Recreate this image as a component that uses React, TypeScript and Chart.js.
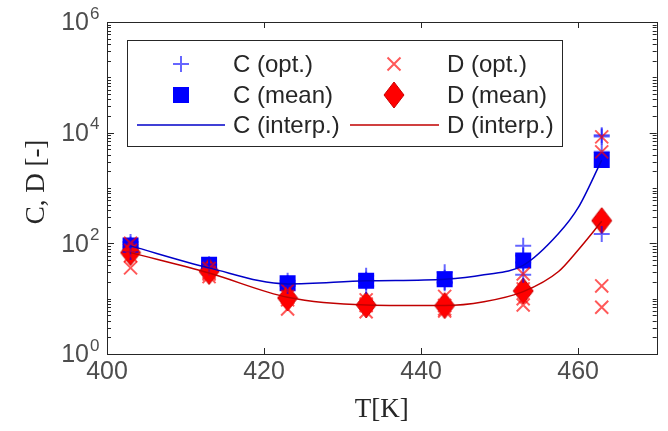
import React, { useEffect, useRef } from "react";
import { Chart, registerables } from "chart.js";

Chart.register(...registerables);

// ---- data ----
const temps = [403, 413, 423, 433, 443, 453, 463];
const cOpt = [
  [106, 95, 85, 70],
  [42, 40, 38, 36],
  [21, 19, 18, 17],
  [26, 22, 20, 17],
  [30, 24, 20, 19],
  [90, 60, 45, 27],
  [9000, 8500, 4500, 148],
];
const dOpt = [
  [100, 75, 60, 36],
  [35, 30, 28, 25],
  [14, 11, 9.5, 6.5],
  [9.5, 8, 7.5, 5.8],
  [11, 7.5, 6.5, 6],
  [28, 15, 10, 7.7],
  [8400, 4500, 17, 7],
];
const cMean = [91, 41, 19, 21, 22.4, 49, 3200];
const dMean = [68, 31, 10.3, 7.7, 7.5, 13.8, 257];
const interpT = [403, 413, 423, 433, 443, 448, 453, 457.5, 460, 463];
const cInterp = [90, 36, 18.5, 21, 22.5, 27, 40, 150, 440, 3200];
const dInterp = [68, 29, 10.6, 7.7, 7.5, 8.8, 13.4, 31, 76, 250];
const xTicks = [400, 420, 440, 460];
const yTickExps = [0, 2, 4, 6];
const legendLabels = ["C (opt.)", "D (opt.)", "C (mean)", "D (mean)", "C (interp.)", "D (interp.)"];
const xTitle = "T[K]";
const yTitle = "C, D [-]";

// ---- styles ----
const AXIS = "#262626";
const TICKTXT = "#4d4d4d";
const C_OPT = "rgba(0,0,255,0.6)";
const D_OPT = "rgba(255,0,0,0.65)";
const C_MEAN = "#0000ff";
const D_MEAN = "#ff0000";
const D_EDGE = "#c80000";
const C_LINE = "#0000c8";
const D_LINE = "#c00000";

function makeDiamond(w: number, h: number) {
  const c = document.createElement("canvas");
  c.width = w + 2;
  c.height = h + 2;
  const g = c.getContext("2d")!;
  g.beginPath();
  g.moveTo(c.width / 2, 1);
  g.lineTo(c.width - 1, c.height / 2);
  g.lineTo(c.width / 2, c.height - 1);
  g.lineTo(1, c.height / 2);
  g.closePath();
  g.fillStyle = D_MEAN;
  g.fill();
  g.strokeStyle = D_EDGE;
  g.lineWidth = 1;
  g.stroke();
  return c;
}

function drawMarker(ctx: CanvasRenderingContext2D, kind: string, x: number, y: number, diamond?: HTMLCanvasElement) {
  ctx.save();
  if (kind === "plus") {
    ctx.strokeStyle = C_OPT;
    ctx.lineWidth = 2;
    ctx.beginPath();
    ctx.moveTo(x - 8, y);
    ctx.lineTo(x + 8, y);
    ctx.moveTo(x, y - 8);
    ctx.lineTo(x, y + 8);
    ctx.stroke();
  } else if (kind === "x") {
    ctx.strokeStyle = D_OPT;
    ctx.lineWidth = 2;
    ctx.beginPath();
    ctx.moveTo(x - 6.5, y - 6.5);
    ctx.lineTo(x + 6.5, y + 6.5);
    ctx.moveTo(x + 6.5, y - 6.5);
    ctx.lineTo(x - 6.5, y + 6.5);
    ctx.stroke();
  } else if (kind === "square") {
    ctx.fillStyle = C_MEAN;
    ctx.fillRect(x - 8, y - 8, 16, 16);
  } else if (kind === "diamond" && diamond) {
    ctx.drawImage(diamond, x - diamond.width / 2, y - diamond.height / 2);
  }
  ctx.restore();
}

export default function App() {
  const ref = useRef<HTMLCanvasElement | null>(null);

  useEffect(() => {
    if (!ref.current) return;
    const diamond = makeDiamond(20, 26);

    const optPoints = (vals: number[][]) => {
      const out: { x: number; y: number }[] = [];
      temps.forEach((t, i) => vals[i].forEach((v) => out.push({ x: t, y: v })));
      return out;
    };
    const pts = (xs: number[], ys: number[]) => xs.map((x, i) => ({ x, y: ys[i] }));

    const axesPlugin = {
      id: "matlabAxes",
      afterDraw(chart: any) {
        const ctx: CanvasRenderingContext2D = chart.ctx;
        const xs = chart.scales.x;
        const ys = chart.scales.y;
        const L = xs.left, R = xs.right, T = ys.top, B = ys.bottom;
        ctx.save();
        // box
        ctx.strokeStyle = AXIS;
        ctx.lineWidth = 1;
        ctx.strokeRect(Math.round(L) + 0.5, Math.round(T) + 0.5, Math.round(R - L), Math.round(B - T));
        // x ticks (bottom & top, inward)
        ctx.beginPath();
        xTicks.forEach((v) => {
          const px = Math.round(xs.getPixelForValue(v)) + 0.5;
          ctx.moveTo(px, B);
          ctx.lineTo(px, B - 6);
          ctx.moveTo(px, T);
          ctx.lineTo(px, T + 6);
        });
        // y ticks (left & right, inward)
        for (let e = 0; e <= 6; e++) {
          const major = yTickExps.includes(e);
          const py = Math.round(ys.getPixelForValue(Math.pow(10, e))) + 0.5;
          const len = major ? 7 : 4;
          ctx.moveTo(L, py);
          ctx.lineTo(L + len, py);
          ctx.moveTo(R, py);
          ctx.lineTo(R - len, py);
          if (e < 6) {
            for (let m = 2; m <= 9; m++) {
              const pm = Math.round(ys.getPixelForValue(m * Math.pow(10, e))) + 0.5;
              ctx.moveTo(L, pm);
              ctx.lineTo(L + 4, pm);
              ctx.moveTo(R, pm);
              ctx.lineTo(R - 4, pm);
            }
          }
        }
        ctx.stroke();

        // x tick labels
        ctx.fillStyle = TICKTXT;
        ctx.font = "25px 'Liberation Sans', Arial, sans-serif";
        ctx.textAlign = "center";
        ctx.textBaseline = "middle";
        xTicks.forEach((v) => {
          ctx.fillText(String(v), xs.getPixelForValue(v), B + 18);
        });
        // y tick labels 10^n
        yTickExps.forEach((e) => {
          const py = ys.getPixelForValue(Math.pow(10, e));
          ctx.font = "25px 'Liberation Sans', Arial, sans-serif";
          ctx.textAlign = "right";
          ctx.textBaseline = "middle";
          ctx.fillText("10", L - 18, py + 1.5);
          ctx.font = "17px 'Liberation Sans', Arial, sans-serif";
          ctx.textAlign = "left";
          ctx.fillText(String(e), L - 17, py - 8);
        });

        // axis titles
        ctx.fillStyle = AXIS;
        ctx.font = "27px 'Liberation Serif', 'DejaVu Serif', serif";
        ctx.textAlign = "center";
        ctx.textBaseline = "middle";
        ctx.fillText(xTitle, (L + R) / 2, B + 56);
        ctx.save();
        ctx.translate(L - 70, (T + B) / 2 - 6);
        ctx.rotate(-Math.PI / 2);
        ctx.fillText(yTitle, 0, 0);
        ctx.restore();

        // legend
        const lx = 127, ly = 40, lw = 435, lh = 106;
        ctx.fillStyle = "#ffffff";
        ctx.fillRect(lx, ly, lw, lh);
        ctx.strokeStyle = AXIS;
        ctx.lineWidth = 1;
        ctx.strokeRect(lx + 0.5, ly + 0.5, lw, lh);
        const rows = [64, 95, 125];
        const markerX = [181, 394];
        const textX = [233, 447];
        const lineSpan = [
          [137, 225],
          [350, 439],
        ];
        const kinds = ["plus", "x", "square", "diamond"];
        ctx.font = "24px 'Liberation Sans', Arial, sans-serif";
        ctx.textAlign = "left";
        ctx.textBaseline = "middle";
        legendLabels.forEach((lab, i) => {
          const col = i % 2;
          const row = Math.floor(i / 2);
          const y = rows[row];
          if (row < 2) {
            drawMarker(ctx, kinds[i], markerX[col], y, diamond);
          } else {
            ctx.save();
            ctx.strokeStyle = col === 0 ? C_LINE : D_LINE;
            ctx.lineWidth = 1.5;
            ctx.beginPath();
            ctx.moveTo(lineSpan[col][0], y);
            ctx.lineTo(lineSpan[col][1], y);
            ctx.stroke();
            ctx.restore();
          }
          ctx.fillStyle = AXIS;
          ctx.fillText(lab, textX[col], y + 1);
        });
        ctx.restore();
      },
    };

    const chart = new Chart(ref.current, {
      type: "scatter",
      data: {
        datasets: [
          {
            label: legendLabels[4],
            type: "line",
            data: pts(interpT, cInterp),
            borderColor: C_LINE,
            borderWidth: 1.5,
            pointRadius: 0,
            cubicInterpolationMode: "monotone",
            fill: false,
            order: 1,
          } as any,
          {
            label: legendLabels[5],
            type: "line",
            data: pts(interpT, dInterp),
            borderColor: D_LINE,
            borderWidth: 1.5,
            pointRadius: 0,
            cubicInterpolationMode: "monotone",
            fill: false,
            order: 2,
          } as any,
          {
            label: legendLabels[1],
            data: optPoints(dOpt),
            pointStyle: "crossRot",
            pointRadius: 9.2,
            pointBorderWidth: 2,
            borderColor: D_OPT,
            backgroundColor: D_OPT,
            order: 3,
          },
          {
            label: legendLabels[0],
            data: optPoints(cOpt),
            pointStyle: "cross",
            pointRadius: 8,
            pointBorderWidth: 2,
            borderColor: C_OPT,
            backgroundColor: C_OPT,
            order: 4,
          },
          {
            label: legendLabels[3],
            data: pts(temps, dMean),
            pointStyle: diamond,
            pointRadius: 10,
            order: 5,
          },
          {
            label: legendLabels[2],
            data: pts(temps, cMean),
            pointStyle: "rect",
            pointRadius: 11.3,
            pointBorderWidth: 0,
            borderColor: C_MEAN,
            backgroundColor: C_MEAN,
            order: 6,
          },
        ],
      },
      options: {
        animation: false,
        responsive: false,
        devicePixelRatio: 1,
        events: [],
        layout: { padding: { left: 107, top: 22, right: 9, bottom: 77 } },
        scales: {
          x: { type: "linear", min: 400, max: 470, display: false },
          y: { type: "logarithmic", min: 1, max: 1e6, display: false },
        },
        plugins: {
          legend: { display: false },
          tooltip: { enabled: false },
        },
      },
      plugins: [axesPlugin],
    } as any);

    return () => chart.destroy();
  }, []);

  return (
    <div style={{ position: "absolute", left: 0, top: 0, width: 668, height: 431, background: "#ffffff" }}>
      <canvas ref={ref} width={668} height={431} style={{ display: "block" }} />
    </div>
  );
}
